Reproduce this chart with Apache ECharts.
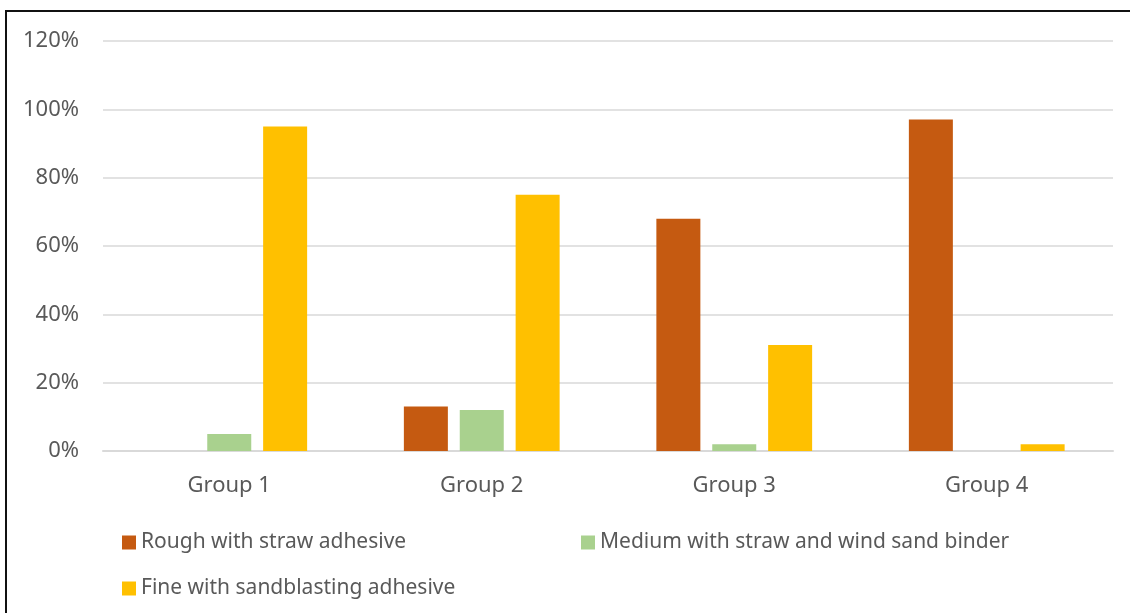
<!DOCTYPE html>
<html>
<head>
<meta charset="utf-8">
<style>
  html, body { margin: 0; padding: 0; background: #fff; }
  #frame { position: absolute; left: 5px; top: 10px; width: 1200px; height: 700px;
           border-left: 2px solid #111; border-top: 2px solid #111; }
  #chart { position: absolute; left: 0; top: 0; width: 1130px; height: 613px; }
</style>
<script src="https://cdn.jsdelivr.net/npm/echarts@6/dist/echarts.min.js"></script>
</head>
<body>
<div id="frame"></div>
<div id="chart"></div>
<script>
const categories = ['Group 1', 'Group 2', 'Group 3', 'Group 4'];
const seriesNames = [
  'Rough with straw adhesive',
  'Medium with straw and wind sand binder',
  'Fine with sandblasting adhesive'
];
const roughValues = [0, 13, 68, 97];
const mediumValues = [5, 12, 2, 0];
const fineValues = [95, 75, 31, 2];
const yTicks = [0, 20, 40, 60, 80, 100, 120];
const colors = ['#C55A11', '#A9D18E', '#FFC000'];

const FONT = '"Noto Sans", "Open Sans", sans-serif';
const TEXT = '#595959';

const legendPos = [
  { left: 117, top: 527 },
  { left: 576, top: 527 },
  { left: 117, top: 573 }
];

const chart = echarts.init(document.getElementById('chart'), null, { renderer: 'canvas' });
chart.setOption({
  backgroundColor: 'transparent',
  animation: false,
  color: colors,
  grid: { left: 103, right: 17, top: 41, bottom: 162 },
  legend: seriesNames.map((n, i) => ({
    data: [n],
    left: legendPos[i].left,
    top: legendPos[i].top,
    icon: 'rect',
    itemWidth: 14,
    itemHeight: 14,
    itemGap: 8,
    textStyle: { color: TEXT, fontSize: 21, fontFamily: FONT },
    selectedMode: false
  })),
  xAxis: {
    type: 'category',
    data: categories,
    axisLine: { show: true, lineStyle: { color: '#D9D9D9', width: 2 } },
    axisTick: { show: false },
    axisLabel: { color: TEXT, fontSize: 22, fontFamily: FONT, margin: 24 }
  },
  yAxis: {
    type: 'value',
    min: yTicks[0],
    max: yTicks[yTicks.length - 1],
    interval: 20,
    axisLine: { show: false },
    axisTick: { show: false },
    splitLine: { lineStyle: { color: '#D9D9D9', width: 1.5 } },
    axisLabel: { color: TEXT, fontSize: 22, fontFamily: FONT, margin: 24,
                 formatter: v => v + '%' }
  },
  series: [roughValues, mediumValues, fineValues].map((d, i) => ({
    name: seriesNames[i],
    type: 'bar',
    data: d,
    barWidth: 44,
    barGap: '27%',
    itemStyle: { color: colors[i] }
  }))
});
</script>
</body>
</html>
